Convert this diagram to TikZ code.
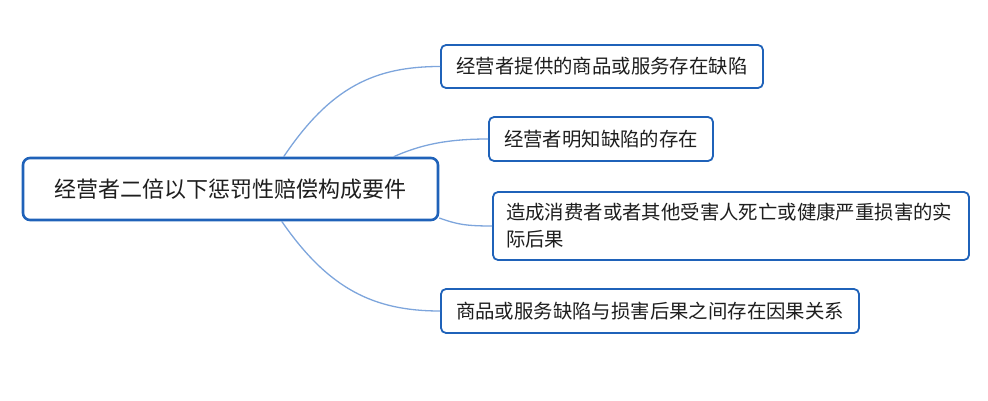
\documentclass[tikz,border=0pt]{standalone}
\usepackage{fontspec}
\newfontfamily\cjk{Noto Sans CJK SC}
\definecolor{boxblue}{HTML}{1F62B9}
\definecolor{linkblue}{HTML}{7DA5DC}
\definecolor{txt}{HTML}{1E1E1E}
\begin{document}
\begin{tikzpicture}[x=1pt,y=-1pt,
  rootbox/.style={draw=boxblue, line width=2.6pt, rounded corners=7pt, fill=white,
    minimum width=415pt, minimum height=62pt, inner sep=0pt, text=txt,
    font=\cjk\fontsize{22}{26}\selectfont},
  childbox/.style={draw=boxblue, line width=1.8pt, rounded corners=5pt, fill=white,
    minimum height=44pt, inner sep=0pt, text=txt,
    font=\cjk\fontsize{19.4}{27}\selectfont},
  link/.style={draw=linkblue, line width=1.3pt}]
\useasboundingbox (0,0) rectangle (988,401);

\node[rootbox] (root) at (230.5,189) {经营者二倍以下惩罚性赔偿构成要件};
\node[childbox, minimum width=322pt, minimum height=43pt] (b1) at (602,66.5) {经营者提供的商品或服务存在缺陷};
\node[childbox, minimum width=224pt] (b2) at (601,139) {经营者明知缺陷的存在};
\node[childbox, minimum width=476pt, minimum height=68pt, text width=450pt, align=left] (b3) at (731,226) {造成消费者或者其他受害人死亡或健康严重损害的实\\际后果};
\node[childbox, minimum width=418pt] (b4) at (650,311) {商品或服务缺陷与损害后果之间存在因果关系};

\draw[link] ([xshift=262pt]root.north west) .. controls +(47,-70) and +(-65,0) .. (b1.west);
\draw[link] ([xshift=372pt]root.north west) .. controls +(25,-11) and +(-44,0) .. (b2.west);
\draw[link] ([yshift=-29pt]root.east) .. controls +(17,6) and +(-28,0) .. (b3.west);
\draw[link] ([xshift=260pt]root.south west) .. controls +(47,68) and +(-66,0) .. (b4.west);
\end{tikzpicture}
\end{document}
